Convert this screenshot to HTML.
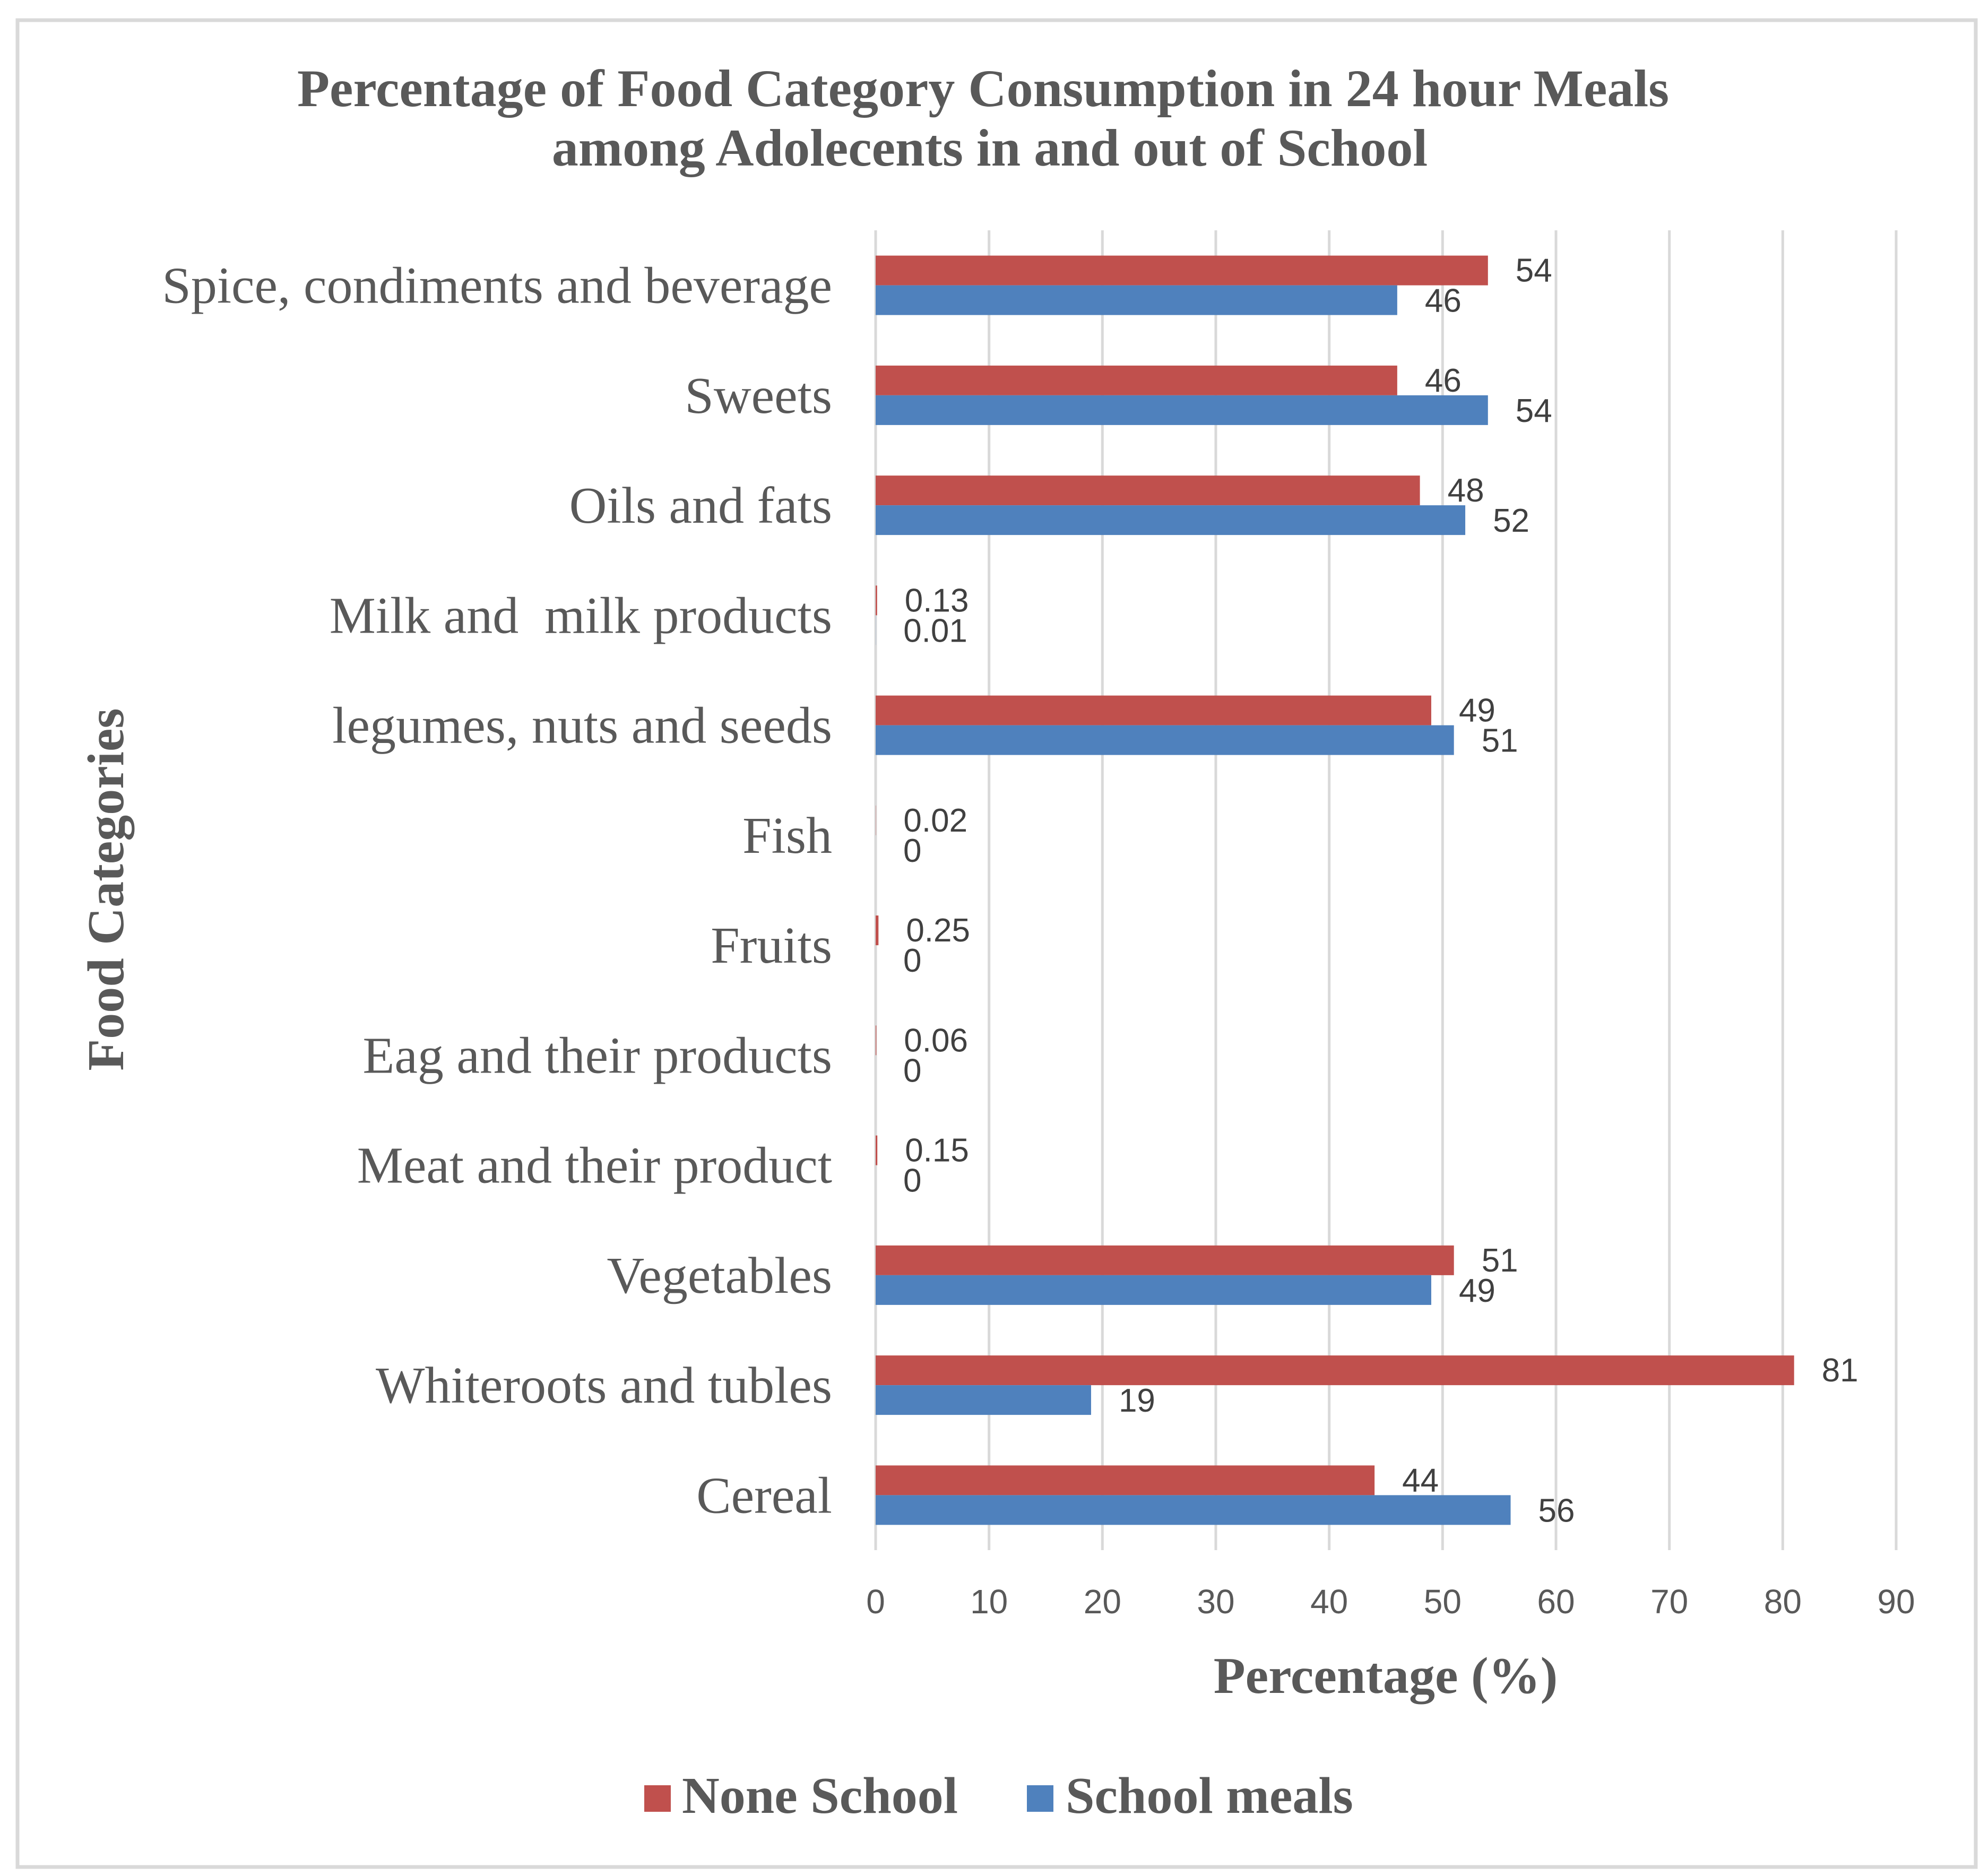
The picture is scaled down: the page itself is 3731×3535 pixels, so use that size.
<!DOCTYPE html>
<html><head><meta charset="utf-8"><style>
html,body{margin:0;padding:0;background:#fff;}
svg{display:block;}
</style></head><body>
<svg id="chart" width="3731" height="3535" viewBox="0 0 3731 3535" xmlns="http://www.w3.org/2000/svg">
<rect x="33" y="38" width="3690" height="3480" fill="#fff" stroke="#d9d9d9" stroke-width="7"/>
<text font-family="Liberation Serif, serif" font-weight="bold" font-size="100" fill="#595959" text-anchor="middle">
<tspan x="1865" y="200">Percentage of Food Category Consumption in 24 hour Meals</tspan>
<tspan x="1865" y="312">among Adolecents in and out of School</tspan></text>
<g id="grid"></g>
<g id="bars"></g>
<g id="labels"></g>
<text transform="translate(232,1676) rotate(-90)" font-family="Liberation Serif, serif" font-weight="bold" font-size="98" fill="#595959" text-anchor="middle">Food Categories</text>
<text x="2611" y="3190" font-family="Liberation Serif, serif" font-weight="bold" font-size="98" fill="#595959" text-anchor="middle">Percentage (%)</text>
<g>
<rect x="1214" y="3364" width="50" height="50" fill="#c0504d"/>
<text x="1285" y="3416" font-family="Liberation Serif, serif" font-weight="bold" font-size="98" fill="#595959">None School</text>
<rect x="1935" y="3364" width="50" height="50" fill="#4f81bd"/>
<text x="2008" y="3416" font-family="Liberation Serif, serif" font-weight="bold" font-size="98" fill="#595959">School meals</text>
</g>
</svg>
<script>
const categories = ["Spice, condiments and beverage","Sweets","Oils and fats","Milk and  milk products","legumes, nuts and seeds","Fish","Fruits","Eag and their products","Meat and their product","Vegetables","Whiteroots and tubles","Cereal"];
const noneSchool = [54,46,48,0.13,49,0.02,0.25,0.06,0.15,51,81,44];
const schoolMeals = [46,54,52,0.01,51,0,0,0,0,49,19,56];
const xTicks = [0,10,20,30,40,50,60,70,80,90];

const NS = "http://www.w3.org/2000/svg";
const x0 = 1650, x1 = 3573, xMax = 90;
const plotTop = 434, plotBottom = 2921;
const band = (plotBottom - plotTop) / categories.length;
const barH = 56;
const xs = v => x0 + (v / xMax) * (x1 - x0);
const yc = i => plotTop + band * (i + 0.5);

function mk(tag, attrs, parent, txt){
  const e = document.createElementNS(NS, tag);
  for (const k in attrs) e.setAttribute(k, attrs[k]);
  if (txt !== undefined) e.textContent = txt;
  parent.appendChild(e);
  return e;
}
const grid = document.getElementById('grid');
const bars = document.getElementById('bars');
const labels = document.getElementById('labels');
const fontSans = "Liberation Sans Narrow, Liberation Sans, sans-serif";

xTicks.forEach(t => {
  const l = mk('line', {x1: xs(t), x2: xs(t), y1: plotTop, y2: plotBottom, stroke: '#d9d9d9', 'stroke-width': 5}, grid);
  
  
  const tl = mk('text', {x: xs(t), y: 3040, 'font-family': fontSans, 'font-size': 64, fill: '#595959', 'text-anchor': 'middle'}, grid, String(t));
  
  
});

categories.forEach((c, i) => {
  const cy = yc(i);
  const cl = mk('text', {x: 1568, y: cy + 33, 'font-family': 'Liberation Serif, serif', 'font-size': 98, fill: '#595959', 'text-anchor': 'end', style: 'white-space:pre'}, labels, c);
  
  

  const r = mk('rect', {x: x0, y: cy - barH, width: Math.max(0, xs(noneSchool[i]) - x0), height: barH, fill: '#c0504d'}, bars);
  
  
  const b = mk('rect', {x: x0, y: cy, width: Math.max(0, xs(schoolMeals[i]) - x0), height: barH, fill: '#4f81bd'}, bars);
  
  

  const rl = mk('text', {x: xs(noneSchool[i]) + 52, y: cy - 7, 'font-family': fontSans, 'font-size': 62, fill: '#404040'}, labels, String(noneSchool[i]));
  
  
  const bl = mk('text', {x: xs(schoolMeals[i]) + 52, y: cy + 50, 'font-family': fontSans, 'font-size': 62, fill: '#404040'}, labels, String(schoolMeals[i]));
  
  
});
</script>
</body></html>
